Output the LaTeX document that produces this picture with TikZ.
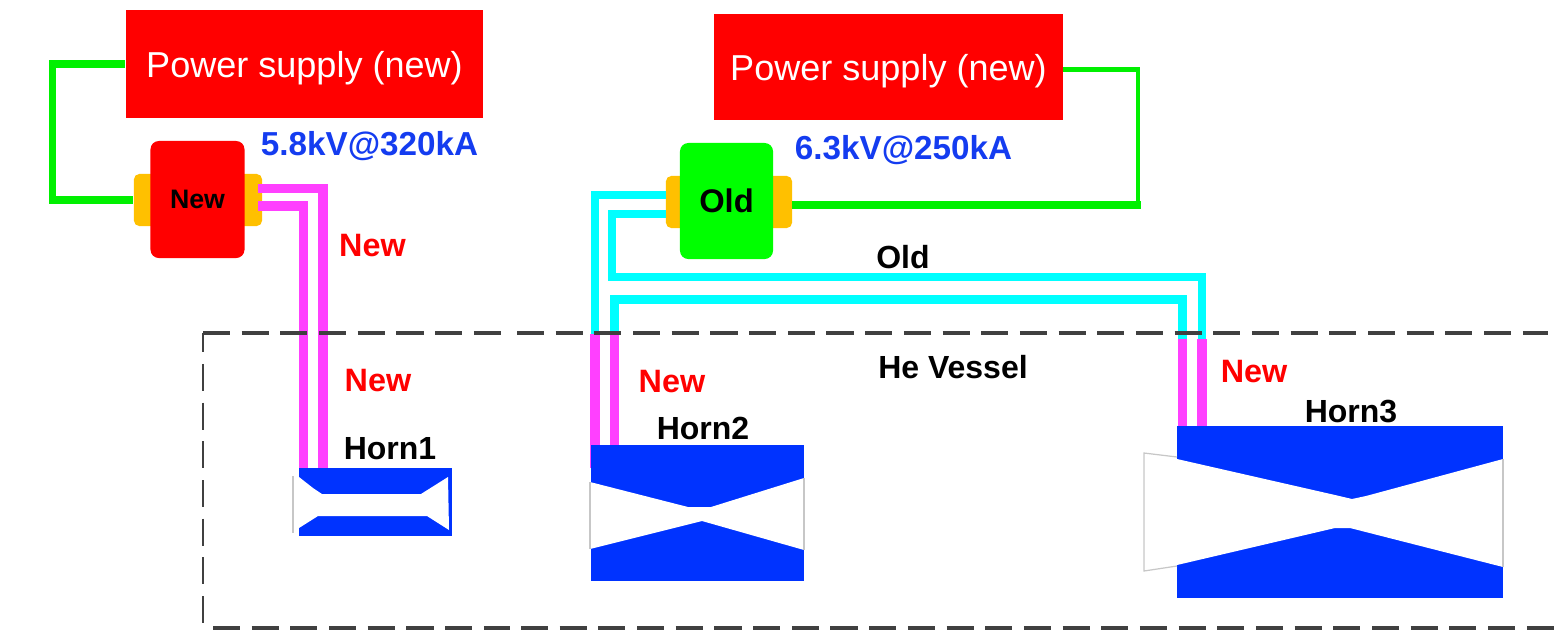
\documentclass[tikz,border=0pt]{standalone}
\usepackage{fontspec}
\setmainfont{Liberation Sans}
\usetikzlibrary{positioning}
\definecolor{supplyred}{RGB}{255,0,0}
\definecolor{switchgreen}{RGB}{0,255,0}
\definecolor{earorange}{RGB}{255,192,0}
\definecolor{wiremag}{RGB}{255,64,255}
\definecolor{wirecyan}{RGB}{0,255,255}
\definecolor{wiregreen}{RGB}{0,240,0}
\definecolor{hornblue}{RGB}{0,51,255}
\definecolor{labelblue}{RGB}{20,60,240}
\definecolor{vesselgray}{RGB}{64,64,64}
\tikzset{
  supply/.style={fill=supplyred, text=white, inner sep=0pt, text depth=0pt, font=\fontsize{10.25}{12}\selectfont},
  switch/.style={rounded corners=2.4pt, inner sep=0pt, minimum width=.94cm, minimum height=1.17cm, font=\fontsize{7.6}{10}\bfseries\selectfont},
  ear/.style={fill=earorange, rounded corners=1.5pt, inner sep=0pt, minimum height=.52cm},
  hornbody/.style={fill=hornblue, inner sep=0pt},
  bore/.style={fill=white},
  rim/.style={draw=black!22, line width=.35pt},
  newwire/.style={draw=wiremag, line width=2.7pt},
  oldwire/.style={draw=wirecyan, line width=2.4pt},
  feedwire/.style={draw=wiregreen, line width=2pt},
  vessel/.style={draw=vesselgray, line width=1.15pt, dash pattern=on 7.7pt off 3.3pt},
  txtred/.style={text=supplyred, font=\fontsize{9.2}{11}\bfseries\selectfont},
  txtblue/.style={text=labelblue, font=\fontsize{9.45}{11}\bfseries\selectfont},
  txtblack/.style={font=\fontsize{9.1}{11}\bfseries\selectfont}
}
\begin{document}
\begin{tikzpicture}[x=.01cm, y=-.01cm]
\useasboundingbox (0, 0) rectangle (1558, 630);
% supplies and switch boxes
\node[supply, minimum width=3.57cm, minimum height=1.08cm] (supplya) at (304.5, 64) {Power supply (new)};
\node[supply, minimum width=3.49cm, minimum height=1.06cm] (supplyb) at (888.5, 67) {Power supply (new)};
\node[ear, minimum width=1.28cm] (eara) at (198, 200) {};
\node[ear, minimum width=1.26cm] (earb) at (729, 202) {};
\node[switch, fill=supplyred] (switcha) at (197.5, 199.5) {New};
\node[switch, fill=switchgreen, minimum width=.93cm, minimum height=1.16cm] (switchb) at (726.5, 201) {\fontsize{9.3}{12}\selectfont Old};
% horn bodies
\node[hornbody, minimum width=1.53cm, minimum height=.68cm] (horna) at (375.5, 502) {};
\node[hornbody, minimum width=3.26cm, minimum height=1.72cm] (hornc) at (1340, 512) {};
% ports
\coordinate (portaa) at (258, 188.5);
\coordinate (portab) at (258, 206);
\coordinate (inaa) at (323, 468);
\coordinate (inab) at (303.5, 468);
\coordinate (portba) at (666, 195);
\coordinate (portbb) at (666, 214);
\coordinate (inba) at (595, 468);
\coordinate (inbb) at (614.5, 445);
\coordinate (inca) at (1182.5, 426);
\coordinate (incb) at (1202, 426);
\coordinate (crossba) at (595, 334);
\coordinate (crossbb) at (614.5, 334);
\coordinate (crossca) at (1182.5, 339);
\coordinate (crosscb) at (1202, 339);
\coordinate (portsb) at (1063, 69.5);
\coordinate (portsc) at (792, 205);
\coordinate (bendb) at (1138, 205);
% feed lines
\draw[feedwire] (supplya.west) -- ++(-73, 0) |- (eara.west);
\draw[feedwire, line width=1.4pt] (portsb) -| (bendb);
\draw[feedwire, line width=2.2pt] (bendb) ++(2.5, 0) -- (portsc);
% old lines
\draw[oldwire] (portba) -| (crossba);
\draw[oldwire] (portbb) -- (612, 214) |- (1202, 277) -- (crosscb);
\draw[oldwire] (crossbb) |- (1182.5, 299.5) -- (crossca);
% new lines
\draw[newwire] (portaa) -| (inaa);
\draw[newwire] (portab) -| (inab);
\draw[newwire] (crossba) -- (inba);
\draw[newwire] (crossbb) -- (inbb);
\draw[newwire] (crossca) -- (inca);
\draw[newwire] (crosscb) -- (incb);
\node[hornbody, minimum width=2.13cm, minimum height=1.36cm] (hornb) at (697.5, 513) {};
% bores
\fill[bore] (293, 476) -- (299, 477) -- (313, 488) -- (322, 494) -- (421, 494) -- (448, 477) -- (449, 530) -- (427, 516) -- (318, 516) -- (299, 528) -- (293, 533) -- cycle;
\fill[bore] (590, 482) -- (688, 507) -- (711, 507) -- (804, 478) -- (804, 550) -- (702, 521) -- (590, 549) -- cycle;
\fill[bore] (1144, 453) -- (1177, 459) -- (1335, 495) -- (1352, 499) -- (1366, 496) -- (1503, 459) -- (1503, 567) -- (1350, 528) -- (1335, 528) -- (1177, 565) -- (1144, 571) -- cycle;
\draw[rim] (293, 476) -- (293, 533);
\draw[rim] (590, 482) -- (590, 549);
\draw[rim] (804, 478) -- (804, 550);
\draw[rim] (1177, 457) -- (1144, 453) -- (1144, 571) -- (1177, 566);
\draw[rim] (1503, 459) -- (1503, 567);
% he vessel
\draw[vessel] (203, 333) -- (505, 333);
\draw[vessel, line width=.7pt, dash phase=2.2pt] (203, 333) -- (203, 628);
\draw[vessel] (213, 628) -- (510, 628);
\draw[vessel, line width=1.3pt] (517, 333) -- (1548, 333);
\draw[vessel, line width=1.3pt] (521, 628) -- (1558, 628);
% labels
\node[txtblue] (volta) at (369.5, 146) {5.8kV@320kA};
\node[txtblue] (voltb) at (903.5, 150) {6.3kV@250kA};
\node[txtred] (newa) at (372.5, 246) {New};
\node[txtred] (newb) at (378, 381) {New};
\node[txtred] (newc) at (672, 382) {New};
\node[txtred] (newd) at (1254, 372) {New};
\node[txtblack] (oldlabel) at (903, 257) {Old};
\node[txtblack] (vesselabel) at (953, 367) {He Vessel};
\node[txtblack] (labela) at (390, 449) {Horn1};
\node[txtblack] (labelb) at (703, 428) {Horn2};
\node[txtblack] (labelc) at (1351, 411) {Horn3};
\end{tikzpicture}
\end{document}
